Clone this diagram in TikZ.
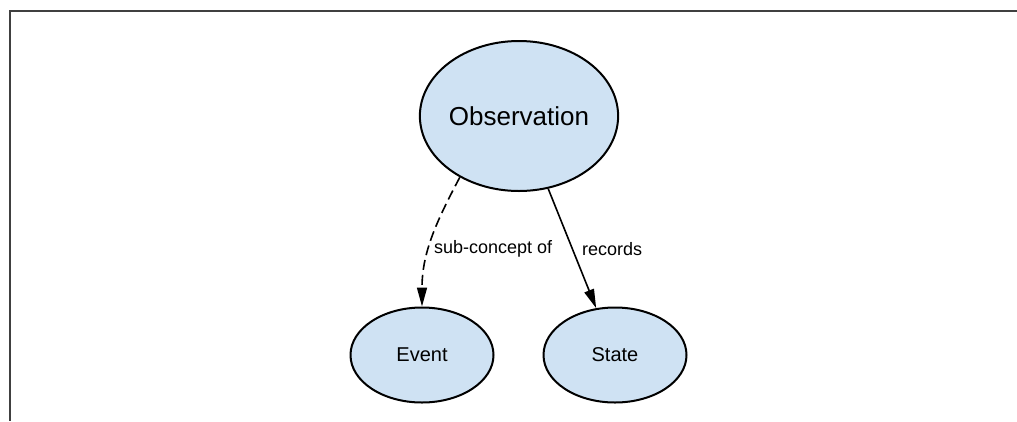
\documentclass[tikz,border=0pt]{standalone}
\usepackage{fontspec}
\setmainfont{Liberation Sans}
\usetikzlibrary{shapes.geometric,arrows.meta}
\definecolor{conceptblue}{HTML}{CFE2F3}
\tikzset{
  concept/.style={ellipse, draw=black, line width=2pt, fill=conceptblue, inner sep=0pt},
  lbl/.style={font=\fontsize{18}{20}\selectfont, inner sep=0pt},
  rel/.style={line width=1.6pt, -{Triangle[length=19pt,width=10pt]}}
}
\begin{document}
\begin{tikzpicture}[x=1pt,y=-1pt]
\useasboundingbox (0,0) rectangle (1017,421);
\draw [draw=black!75, line width=2pt] (1017,11)--(10,11)--(10,421);
\node[concept, minimum width=192pt, minimum height=150pt, font=\fontsize{26}{30}\selectfont] (obs) at (519,116) {Observation};
\node[concept, minimum width=143pt, minimum height=95pt, font=\fontsize{20}{24}\selectfont] (event) at (422,355) {Event};
\node[concept, minimum width=143pt, minimum height=95pt, font=\fontsize{20}{24}\selectfont] (state) at (615,355) {State};
\draw [rel, dash pattern=on 10pt off 5pt] (obs.226) to[out=-118,in=90] (event.north);
\draw [rel] (obs) -- (state);
\node[lbl, anchor=west] (subof) at (434,249) {sub-concept of};
\node[lbl, anchor=west] (rec) at (582,249) {records};
\end{tikzpicture}
\end{document}
